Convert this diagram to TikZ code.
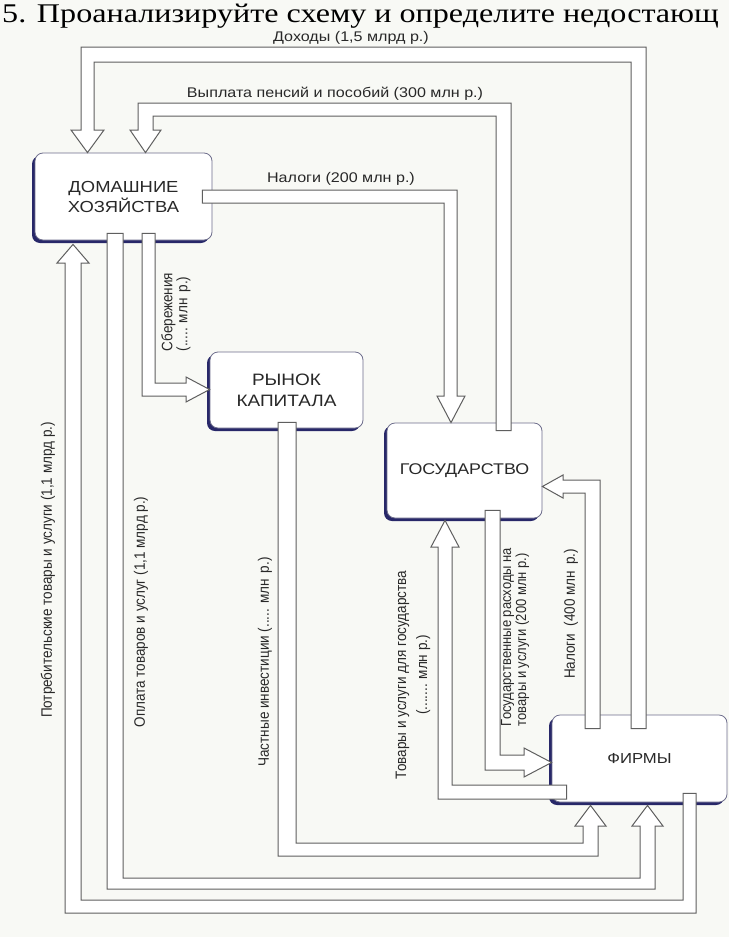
\documentclass[tikz,border=0pt]{standalone}
\usepackage{fontspec}
\setmainfont{Liberation Serif}
\newfontfamily\lab{Liberation Sans}
\usepackage{graphicx}
\usetikzlibrary{shadows,calc}
\definecolor{bg}{RGB}{248,249,245}
\definecolor{ln}{RGB}{95,95,95}
\definecolor{navy}{RGB}{40,40,105}
\definecolor{bx}{RGB}{110,110,140}
\definecolor{tx}{RGB}{40,40,40}
\newcommand{\wide}[1]{\scalebox{1.15}[1]{#1}}
\newcommand{\tall}[1]{\scalebox{1}[1.12]{#1}}
\begin{document}
\begin{tikzpicture}[x=1pt,y=-1pt,
  box/.style={draw=bx, line width=0.8pt, rounded corners=8pt, fill=white, text=tx,
    align=center, inner sep=0pt,
    drop shadow={shadow xshift=-3pt, shadow yshift=-3pt, fill=navy, opacity=1}},
  flow/.style={draw=ln, line width=1pt, fill=white, line join=miter},
  lbl/.style={text=tx, font=\lab\fontsize{14}{16}\selectfont, inner sep=0pt},
  vlbl/.style={lbl, rotate=90, font=\lab\fontsize{13.5}{15}\selectfont}]
\useasboundingbox (0,0) rectangle (729,937);
\fill[bg] (0,0) rectangle (729,937);
% header line at the top edge
\node[anchor=base west, inner sep=0pt, font=\fontsize{27}{27}\selectfont] (head) at (2,22.5)
  {\scalebox{1.19}[1]{5. Проанализируйте схему и определите недостающ}};
% boxes
\node[box, minimum width=177pt, minimum height=87pt, font=\lab\fontsize{16}{20}\selectfont] (hh) at (123.5,196.5)
  {\wide{ДОМАШНИЕ}\\\wide{ХОЗЯЙСТВА}};
\node[box, minimum width=153pt, minimum height=76pt, font=\lab\fontsize{16.5}{21}\selectfont] (rk) at (286.5,390)
  {\wide{РЫНОК}\\\wide{КАПИТАЛА}};
\node[box, minimum width=155pt, minimum height=95pt, font=\lab\fontsize{15.5}{18}\selectfont] (gov) at (464.5,470.5)
  {\wide{ГОСУДАРСТВО}};
\node[box, minimum width=175pt, minimum height=87pt, font=\lab\fontsize{14.5}{17}\selectfont] (firms) at (639.5,758.5)
  {\wide{ФИРМЫ}};
% flows
% Доходы: firms -> households
\draw[flow] ($(631,0|-firms.north)+(0,14)$) -- (631,62) -- (94,62) -- (94,130) -- (104,130)
  -- (87.5,0|-hh.north) -- (71,130) -- (81,130) -- (81,47) -- (646,47)
  -- ($(646,0|-firms.north)+(0,14)$) -- cycle;
% Выплата пенсий: government -> households
\draw[flow] ($(496,0|-gov.north)+(0,8)$) -- (496,116) -- (153,116) -- (153,130) -- (161,130)
  -- (145.5,0|-hh.north) -- (130,130) -- (138,130) -- (138,103) -- (511,103)
  -- ($(511,0|-gov.north)+(0,8)$) -- cycle;
% Налоги 200: households -> government
\draw[flow] ($(hh.east|-0,190)+(-10,0)$) -- (457,190) -- (457,396) -- (465,396)
  -- (451,0|-gov.north) -- (437,396) -- (444,396) -- (444,203)
  -- ($(hh.east|-0,203)+(-10,0)$) -- cycle;
% Госрасходы: government -> firms
\draw[flow] ($(485,0|-gov.south)+(0,-8)$) -- (485,770) -- (524,770) -- (524,777)
  -- (firms.west|-0,762.5) -- (524,748) -- (524,755) -- (500,755)
  -- ($(500,0|-gov.south)+(0,-8)$) -- cycle;
% Товары для государства: firms -> government
\draw[flow] ($(firms.west|-0,785)+(15,0)$) -- (452,785) -- (452,547) -- (459,547)
  -- ($(445,0|-gov.south)+(0,2)$) -- (431,547) -- (438,547) -- (438,799)
  -- ($(firms.west|-0,799)+(15,0)$) -- cycle;
% Налоги 400: firms -> government
\draw[flow] ($(585,0|-firms.north)+(0,14)$) -- (585,493) -- (563,493) -- (563,498)
  -- (gov.east|-0,486.5) -- (563,475) -- (563,480) -- (600,480)
  -- ($(600,0|-firms.north)+(0,14)$) -- cycle;
% Сбережения: households -> capital market
\draw[flow] ($(142,0|-hh.south)+(0,-7)$) -- (142,396) -- (186,396) -- (186,402)
  -- (rk.west|-0,389.5) -- (186,377) -- (186,383) -- (155,383)
  -- ($(155,0|-hh.south)+(0,-7)$) -- cycle;
% Частные инвестиции: capital market -> firms
\draw[flow] ($(278,0|-rk.south)+(0,-6)$) -- (278,856) -- (598,856) -- (598,826) -- (606,826)
  -- ($(590.5,0|-firms.south)+(0,3)$) -- (575,826) -- (583,826) -- (583,843) -- (296,843)
  -- ($(296,0|-rk.south)+(0,-6)$) -- cycle;
% Оплата товаров: households -> firms
\draw[flow] ($(107,0|-hh.south)+(0,-7)$) -- (107,889) -- (655,889) -- (655,826) -- (663,826)
  -- ($(647.5,0|-firms.south)+(0,3)$) -- (632,826) -- (640,826) -- (640,878) -- (123,878)
  -- ($(123,0|-hh.south)+(0,-7)$) -- cycle;
% Потребительские товары: firms -> households
\draw[flow] ($(683,0|-firms.south)+(0,-9)$) -- (683,900) -- (81,900) -- (81,263) -- (89,263)
  -- ($(73,0|-hh.south)+(0,4)$) -- (57,263) -- (65,263) -- (65,913) -- (696,913)
  -- ($(696,0|-firms.south)+(0,-9)$) -- cycle;
% labels
\node[lbl] (l1) at (351,38) {\wide{Доходы (1,5 млрд р.)}};
\node[lbl] (l2) at (335,94) {\wide{Выплата пенсий и пособий (300 млн р.)}};
\node[lbl] (l3) at (341,179) {\wide{Налоги (200 млн р.)}};
\node[vlbl] (l4) at (48,570) {\tall{Потребительские товары и услуги (1,1 млрд р.)}};
\node[vlbl] (l5) at (141,612) {\tall{Оплата товаров и услуг (1,1 млрд р.)}};
\node[vlbl, align=left] (l6) at (176,312) {\tall{Сбережения}\\\tall{(..... млн\, р.)}};
\node[vlbl] (l7) at (265,662) {\tall{Частные инвестиции (..... млн\, р.)}};
\node[vlbl, align=center, font=\lab\fontsize{13.5}{21}\selectfont] (l8) at (413,675)
  {\tall{Товары и услуги для государства}\\\tall{(....... млн р.)}};
\node[vlbl, align=left, font=\lab\fontsize{13}{15}\selectfont] (l9) at (515,637)
  {\tall{Государственные расходы на}\\\tall{товары и услуги (200 млн р.)}};
\node[vlbl] (l10) at (571,614) {\tall{Налоги\ \ (400 млн\, р.)}};
\end{tikzpicture}
\end{document}
